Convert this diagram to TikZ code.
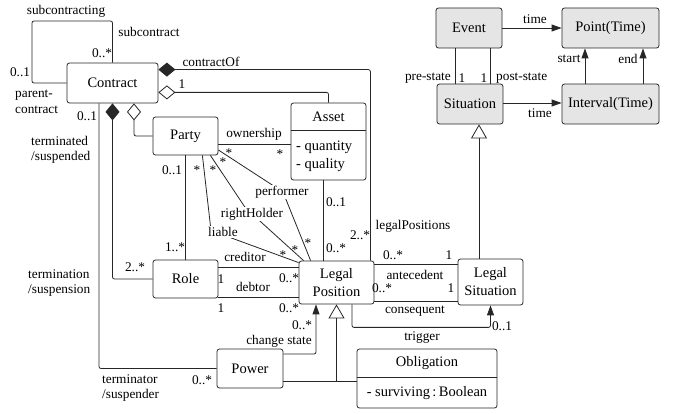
\documentclass[tikz,border=0pt]{standalone}
\usepackage{fontspec}
\setmainfont{Liberation Serif}
\usetikzlibrary{arrows.meta,calc}
\newcommand\nodefnt{\fontsize{14.5}{18}\selectfont}
\newcommand\lblfnt{\fontsize{13.3}{15.5}\selectfont}
\begin{document}
\begin{tikzpicture}[x=1pt,y=-1pt,
  cls/.style={draw=black!85, line width=0.8pt, rounded corners=2.5pt, font=\nodefnt, align=center, inner sep=0pt},
  grey/.style={cls, fill=black!10},
  ttl/.style={font=\nodefnt, inner sep=0pt},
  attr/.style={font=\nodefnt, inner sep=0pt, anchor=west},
  lbl/.style={font=\lblfnt, inner sep=1pt},
  lblw/.style={font=\lblfnt, inner sep=1pt, fill=white},
  lbll/.style={font=\lblfnt, inner sep=0pt, anchor=west, align=left},
  conn/.style={draw=black!85, line width=0.8pt, rounded corners=2pt},
  comp/.style={conn, {Diamond[length=17pt,width=14pt]}-},
  aggr/.style={conn, {Diamond[open,length=17pt,width=14pt,fill=white]}-},
  nav/.style={conn, -{Triangle[length=10pt,width=7pt]}},
  gen/.style={conn, -{Triangle[open,length=14pt,width=16pt,fill=white]}}
]
\useasboundingbox (0,0) rectangle (673,414);

% classes
\node[cls, minimum width=91pt, minimum height=40pt] (contract) at (112.5,83) {Contract};
\node[cls, minimum width=65pt, minimum height=38pt] (party) at (185.5,136) {Party};
\node[cls, minimum width=65pt, minimum height=38pt] (role) at (185.5,279) {Role};
\node[cls, minimum width=75pt, minimum height=77pt] (asset) at (328.5,141.5) {};
\node[ttl] (assetname) at (328.5,117) {Asset};
\node[attr] (aq1) at (296,147) {- quantity};
\node[attr] (aq2) at (296,165) {- quality};
\node[cls, minimum width=75pt, minimum height=43pt] (lp) at (336.5,282.5) {Legal\\Position};
\node[cls, minimum width=65pt, minimum height=46pt] (ls) at (490.5,282) {Legal\\Situation};
\node[cls, minimum width=66pt, minimum height=39pt] (power) at (250,368.5) {Power};
\node[cls, minimum width=140pt, minimum height=59pt] (obl) at (427,378.5) {};
\node[ttl] (oblname) at (427,363) {Obligation};
\node[ttl] (oblattr) at (427,393) {- surviving\,:\,Boolean};
\node[grey, minimum width=66pt, minimum height=40pt] (event) at (469,28) {Event};
\node[grey, minimum width=66pt, minimum height=40pt] (situation) at (470,104) {Situation};
\node[grey, minimum width=97pt, minimum height=40pt] (point) at (610.5,28) {Point(Time)};
\node[grey, minimum width=97pt, minimum height=40pt] (interval) at (610.5,104) {Interval(Time)};

% compartments
\draw[conn] (asset.west |- 0,130) -- (asset.east |- 0,130);
\draw[conn] (obl.west |- 0,377) -- (obl.east |- 0,377);

% contract connectors
\draw[conn] (contract.north) |- (32,21) |- (contract.west);
\draw[comp] ($(contract.north east)+(0,7)$) -| ($(lp.north east)+(-4,0)$);
\draw[aggr] ($(contract.south east)+(0,-11)$) -| (asset.north);
\draw[comp] (contract.south) |- (role.west);
\draw[aggr] ($(contract.south)+(21.5,0)$) |- (party.west);
\draw[conn] ($(contract.south)+(-13.5,0)$) |- (power.west);

% party connectors
\draw[conn] (party.south) -- (role.north);
\draw[conn] (party.east |- 0,144) -- (asset.west |- 0,144);
\draw[conn] ($(party.south east)+(-16,0)$) -- (211,230.5) -- ($(lp.north west)+(0,2)$);
\draw[conn] ($(party.south east)+(-8,0)$) -- (245.5,208) -- ($(lp.north west)+(5,0)$);
\draw[conn] ($(party.east)+(0,14)$) -- (283,192) -- ($(lp.north west)+(12,0)$);

% role / asset / legal position
\draw[conn] (role.east |- 0,267) -- (lp.west |- 0,267);
\draw[conn] (role.east |- 0,297) -- (lp.west |- 0,297);
\draw[conn] (asset.south -| 323,0) -- (lp.north -| 323,0);
\draw[conn] (lp.east |- 0,264) -- (ls.west |- 0,264);
\draw[conn] (lp.east |- 0,301) -- (ls.west |- 0,301);
\draw[nav] (lp.south -| 352,0) |- ($(ls.south)+(0,22)$) -- (ls.south);
\draw[nav] (power.east |- 0,354) -| (lp.south -| 316,0);
\draw[conn] (power.east |- 0,381) -- (obl.west |- 0,381);
\draw[gen] (lp.south |- 0,381) -- (lp.south);

% top right
\draw[gen] (ls.north -| 479,0) -- (situation.south -| 479,0);
\draw[conn] (event.south -| 455,0) -- (situation.north -| 455,0);
\draw[conn] (event.south -| 490,0) -- (situation.north -| 490,0);
\draw[nav] (event.east) -- (point.west);
\draw[nav] (situation.east |- 0,103) -- (interval.west |- 0,103);
\draw[nav] (interval.north -| 585,0) -- (point.south -| 585,0);
\draw[nav] (interval.north -| 643,0) -- (point.south -| 643,0);

% labels
\node[lbl] (l-subcontracting) at (66,11) {subcontracting};
\node[lbl] (l-subcontract) at (149,32) {subcontract};
\node[lbl] (m-sub) at (102,53) {0..*};
\node[lbl] (m-par) at (20,72) {0..1};
\node[lbll] (l-parent) at (15,102) {parent-\\contract};
\node[lbl] (l-contractof) at (211,62) {contractOf};
\node[lbl] (m-cof) at (182,84) {1};
\node[lbl] (m-c1) at (87,116) {0..1};
\node[lbll] (l-term) at (31,150) {terminated\\/suspended};
\node[lbll] (l-termination) at (28,283) {termination\\/suspension};
\node[lbll] (l-terminator) at (102,388) {terminator\\/suspender};
\node[lbl] (m-pow) at (202,380) {0..*};
\node[lbl] (m-pr1) at (172,170) {0..1};
\node[lbl] (m-pr2) at (175,247) {1..*};
\node[lbl] (m-role) at (135,267) {2..*};
\node[lbl] (l-own) at (254,134) {ownership};
\node[lbl] (s-own1) at (229,153) {*};
\node[lbl] (s-own2) at (280,154) {*};
\node[lbl] (s-perf1) at (223,162) {*};
\node[lbl] (s-rh1) at (213,170) {*};
\node[lbl] (s-li1) at (197,170) {*};
\node[lbl] (s-perf2) at (308,243) {*};
\node[lbl] (s-rh2) at (295,250) {*};
\node[lbl] (s-li2) at (283,255) {*};
\node[lblw] (l-liable) at (223,232) {liable};
\node[lblw] (l-rightholder) at (252,214) {rightHolder};
\node[lblw] (l-performer) at (282,192) {performer};
\node[lbl] (l-creditor) at (245,257) {creditor};
\node[lbl] (m-cr1) at (221,279) {1};
\node[lbl] (m-cr2) at (289,278) {0..*};
\node[lbl] (l-debtor) at (253,287) {debtor};
\node[lbl] (m-de1) at (221,308) {1};
\node[lbl] (m-de2) at (289,308) {0..*};
\node[lbl] (m-as1) at (336,202) {0..1};
\node[lbl] (m-as2) at (336,248) {0..*};
\node[lbl] (m-cof2) at (360,235) {2..*};
\node[lbl] (l-legalpos) at (413,226) {legalPositions};
\node[lbl] (m-an1) at (393,255) {0..*};
\node[lbl] (m-an2) at (449,255) {1};
\node[lbl] (l-antecedent) at (415,275) {antecedent};
\node[lbl] (m-co1) at (382,288) {0..*};
\node[lbl] (m-co2) at (451,288) {1};
\node[lbl] (l-consequent) at (415,311) {consequent};
\node[lbl] (l-trigger) at (422,338) {trigger};
\node[lbl] (m-tr) at (502,326) {0..1};
\node[lbl] (m-cs) at (302,325) {0..*};
\node[lbl] (l-change) at (279,341) {change state};
\node[lbl, anchor=east] (l-pre) at (452,78) {pre-state};
\node[lbl] (m-pre) at (462,78) {1};
\node[lbl] (m-post) at (484,78) {1};
\node[lbl, anchor=west] (l-post) at (495,78) {post-state};
\node[lbl] (l-time1) at (535,19) {time};
\node[lbl] (l-time2) at (540,113) {time};
\node[lbl] (l-start) at (569,59) {start};
\node[lbl] (l-end) at (628,59) {end};
\end{tikzpicture}
\end{document}
